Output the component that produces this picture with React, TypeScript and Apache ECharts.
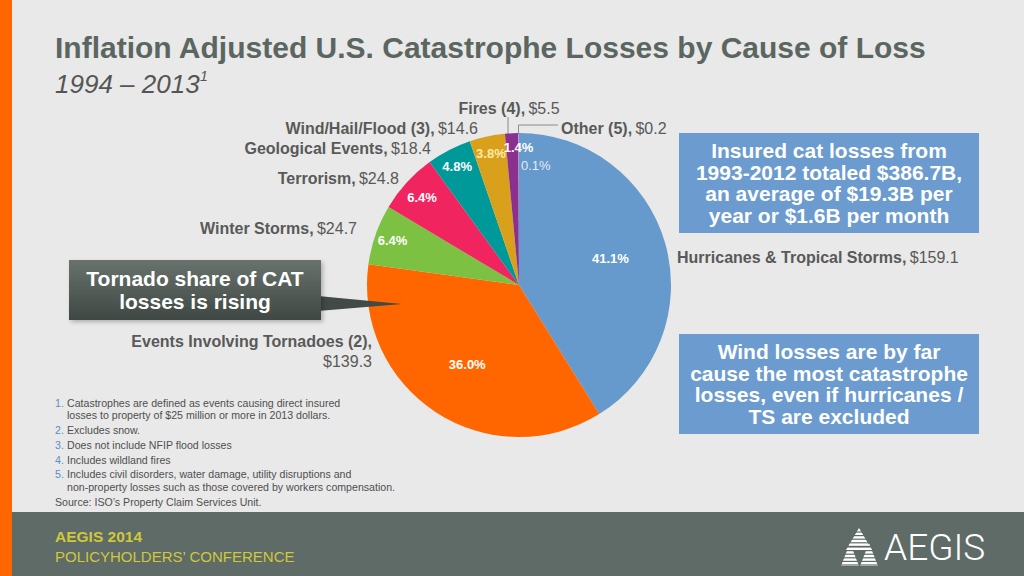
import React, { useEffect, useRef } from "react";
import * as echarts from "echarts";

// ---- data ----
const categories = [
  "Hurricanes & Tropical Storms",
  "Events Involving Tornadoes (2)",
  "Winter Storms",
  "Terrorism",
  "Geological Events",
  "Wind/Hail/Flood (3)",
  "Fires (4)",
  "Other (5)",
];
const lossValues = [159.1, 139.3, 24.7, 24.8, 18.4, 14.6, 5.5, 0.2];
const shareLabels = ["41.1%", "36.0%", "6.4%", "6.4%", "4.8%", "3.8%", "1.4%", "0.1%"];
const titleText = "Inflation Adjusted U.S. Catastrophe Losses by Cause of Loss";
const subtitleText = "1994 – 2013";
const calloutTop = ["Insured cat losses from", "1993-2012 totaled $386.7B,", "an average of $19.3B per", "year or $1.6B per month"];
const calloutBottom = ["Wind losses are by far", "cause the most catastrophe", "losses, even if hurricanes /", "TS are excluded"];
const calloutTornado = ["Tornado share of CAT", "losses is rising"];
const footnoteNumbers = ["1.", "", "2.", "3.", "4.", "5.", "", ""];
const footnoteLines = [
  "Catastrophes are defined as events causing direct insured",
  "losses to property of $25 million or more in 2013 dollars.",
  "Excludes snow.",
  "Does not include NFIP flood losses",
  "Includes wildland fires",
  "Includes civil disorders, water damage, utility disruptions and",
  "non-property losses such as those covered by workers compensation.",
  "Source: ISO’s Property Claim Services Unit.",
];

// ---- styles / layout ----
const sliceColors = ["#6699cc", "#ff6600", "#7cc142", "#f0245f", "#00999a", "#d9a11b", "#8c3090", "#a9bfd8"];
const shareColors = ["#ffffff", "#ffffff", "#ffffff", "#ffffff", "#ffffff", "#ffeaa8", "#ffffff", "#e2ebf6"];
const shareWeights = ["bold", "bold", "bold", "bold", "bold", "bold", "bold", "normal"];
const outerLabelLayout = [
  { x: 677, y: 257, align: "left", wrap: false },
  { x: 372, y: 351, align: "right", wrap: true },
  { x: 357, y: 228, align: "right", wrap: false },
  { x: 399, y: 178, align: "right", wrap: false },
  { x: 431, y: 148, align: "right", wrap: false },
  { x: 478, y: 128, align: "right", wrap: false },
  { x: 509, y: 108, align: "center", wrap: false },
  { x: 561, y: 128, align: "left", wrap: false },
];
const labelNudges: Record<number, [number, number]> = { 3: [2, 3], 6: [6, -4], 7: [17, 14] };
const FONT = "'Liberation Sans', Arial, Helvetica, sans-serif";
const CENTER = [519, 285];
const R = 152;

function txt(x: number, y: number, text: string, extra: any = {}, z = 10): any {
  const align = extra.align || "left";
  const va = extra.verticalAlign || "middle";
  return {
    type: "text",
    x,
    y,
    z,
    style: {
      text,
      fontFamily: FONT,
      align,
      textAlign: align,
      verticalAlign: va,
      textVerticalAlign: va,
      ...extra,
    },
  };
}

export default function App() {
  const ref = useRef<HTMLDivElement>(null);

  useEffect(() => {
    if (!ref.current) return;
    const chart = echarts.init(ref.current, undefined, { renderer: "svg" });

    const baseData = categories.map((name, i) => ({ name, value: lossValues[i] }));

    const labelSeries = (radius: number[], showIdx: number[]) => ({
      type: "pie",
      center: CENTER,
      radius,
      startAngle: 90,
      clockwise: true,
      silent: true,
      avoidLabelOverlap: false,
      emphasis: { disabled: true },
      z: 5,
      labelLine: { show: false },
      data: baseData.map((d, i) => ({
        ...d,
        itemStyle: { color: "rgba(0,0,0,0)" },
        label: {
          show: showIdx.includes(i),
          position: "inside",
          formatter: () => shareLabels[i],
          color: shareColors[i],
          fontWeight: shareWeights[i],
          fontSize: 13,
          fontFamily: FONT,
        },
      })),
      labelLayout: (p: any) => {
        const n = labelNudges[p.dataIndex];
        return n ? { dx: n[0], dy: n[1] } : {};
      },
    });

    const graphics: any[] = [];
    // slide chrome
    graphics.push({ type: "rect", shape: { x: 0, y: 0, width: 12, height: 576 }, style: { fill: "#ff6600" }, z: 1 });
    graphics.push({ type: "rect", shape: { x: 12, y: 512, width: 1012, height: 64 }, style: { fill: "#5f6b66" }, z: 1 });
    // title
    graphics.push(txt(55, 47, titleText, { fontSize: 30, fontWeight: "bold", fill: "#5c6661" }));
    graphics.push(txt(55, 84, subtitleText, { fontSize: 26, fontStyle: "italic", fill: "#555555" }));
    graphics.push(txt(200, 76, "1", { fontSize: 14, fontStyle: "italic", fill: "#555555" }));

    // outer category labels
    categories.forEach((name, i) => {
      const L = outerLabelLayout[i];
      const sep = L.wrap ? "\n" : " ";
      graphics.push({
        type: "text",
        x: L.x,
        y: L.y,
        z: 10,
        style: {
          text: `{b|${name},}${sep}{r|$${lossValues[i]}}`,
          align: L.align,
          textAlign: L.align,
          verticalAlign: "middle",
          textVerticalAlign: "middle",
          lineHeight: 20,
          rich: {
            b: { fontFamily: FONT, fontSize: 16, fontWeight: "bold", fill: "#595959", color: "#595959", lineHeight: 20 },
            r: { fontFamily: FONT, fontSize: 16, fontWeight: "normal", fill: "#595959", color: "#595959", lineHeight: 20 },
          },
        },
      });
    });
    // leader lines for Fires and Other
    graphics.push({ type: "line", z: 10, shape: { x1: 508, y1: 117, x2: 508, y2: 134 }, style: { stroke: "#8a8a8a", lineWidth: 1 } });
    graphics.push({
      type: "polyline",
      z: 10,
      shape: { points: [[558, 125], [518.5, 125], [518.5, 134]] },
      style: { stroke: "#8a8a8a", lineWidth: 1, fill: null },
    });

    // blue callouts
    const blueBox = (y: number, lines: string[]) => {
      graphics.push({ type: "rect", z: 3, shape: { x: 679, y, width: 300, height: 100 }, style: { fill: "#6b9bcf" } });
      graphics.push(
        txt(829, y + 50, lines.join("\n"), {
          align: "center",
          fontSize: 21,
          fontWeight: "bold",
          fill: "#ffffff",
          lineHeight: 21.5,
        })
      );
    };
    blueBox(133, calloutTop);
    blueBox(334, calloutBottom);

    // tornado callout
    graphics.push({
      type: "polygon",
      z: 20,
      shape: { points: [[318, 296], [402, 304], [318, 311]] },
      style: { fill: "#414a45" },
    });
    graphics.push({
      type: "rect",
      z: 21,
      shape: { x: 69, y: 260, width: 252, height: 60 },
      style: {
        fill: new echarts.graphic.LinearGradient(0, 0, 0, 1, [
          { offset: 0, color: "#68726d" },
          { offset: 1, color: "#3f4843" },
        ]),
        shadowBlur: 4,
        shadowOffsetX: 2,
        shadowOffsetY: 2,
        shadowColor: "rgba(0,0,0,0.25)",
      },
    });
    graphics.push(
      txt(195, 290, calloutTornado.join("\n"), {
        align: "center",
        fontSize: 21,
        fontWeight: "bold",
        fill: "#ffffff",
        lineHeight: 23,
      }, 22)
    );

    // footnotes
    const fnY = [403, 415, 430, 445, 460, 474, 487, 502];
    footnoteLines.forEach((line, i) => {
      const num = footnoteNumbers[i];
      const isSource = i === footnoteLines.length - 1;
      const x = isSource ? 55 : 67;
      if (num) graphics.push(txt(55, fnY[i], num, { fontSize: 10.6, fill: "#5b8ccc" }));
      graphics.push(txt(x, fnY[i], line, { fontSize: 10.6, fill: "#4f4f4f" }));
    });

    // footer
    graphics.push(txt(55, 536, "AEGIS 2014", { fontSize: 15.5, fontWeight: "bold", fill: "#cfc83a" }, 5));
    graphics.push(txt(55, 556, "POLICYHOLDERS’ CONFERENCE", { fontSize: 15, fill: "#cfc83a" }, 5));
    // logo
    const tri = (ax: number, ay: number, bx1: number, bx2: number, by: number) => {
      graphics.push({ type: "polygon", z: 5, shape: { points: [[ax, ay], [bx2, by], [bx1, by]] }, style: { fill: "#ffffff" } });
      for (let yy = ay + 4; yy < by; yy += 3.6) {
        graphics.push({ type: "line", z: 6, shape: { x1: bx1 - 1, y1: yy, x2: bx2 + 1, y2: yy }, style: { stroke: "#5f6b66", lineWidth: 1.2 } });
      }
    };
    tri(859, 528, 846, 872, 550);
    tri(850, 543, 841, 859, 566);
    tri(869, 543, 860, 878, 566);
    graphics.push(txt(884, 547, "AEGIS", { fontSize: 37, fontWeight: 300, fontFamily: `Roboto, ${FONT}`, fill: "#ffffff" }, 5));

    chart.setOption({
      animation: false,
      backgroundColor: "#e8e9e8",
      series: [
        {
          type: "pie",
          center: CENTER,
          radius: [0, R],
          startAngle: 90,
          clockwise: true,
          silent: true,
          emphasis: { disabled: true },
          z: 2,
          label: { show: false },
          labelLine: { show: false },
          data: baseData.map((d, i) => ({ ...d, itemStyle: { color: sliceColors[i] } })),
        },
        labelSeries([32, R], [0, 1]),
        labelSeries([110, R], [2, 3, 4, 5, 6, 7]),
      ],
      graphic: { elements: graphics },
    });

    return () => chart.dispose();
  }, []);

  return <div ref={ref} style={{ position: "fixed", left: 0, top: 0, width: 1024, height: 576 }} />;
}
